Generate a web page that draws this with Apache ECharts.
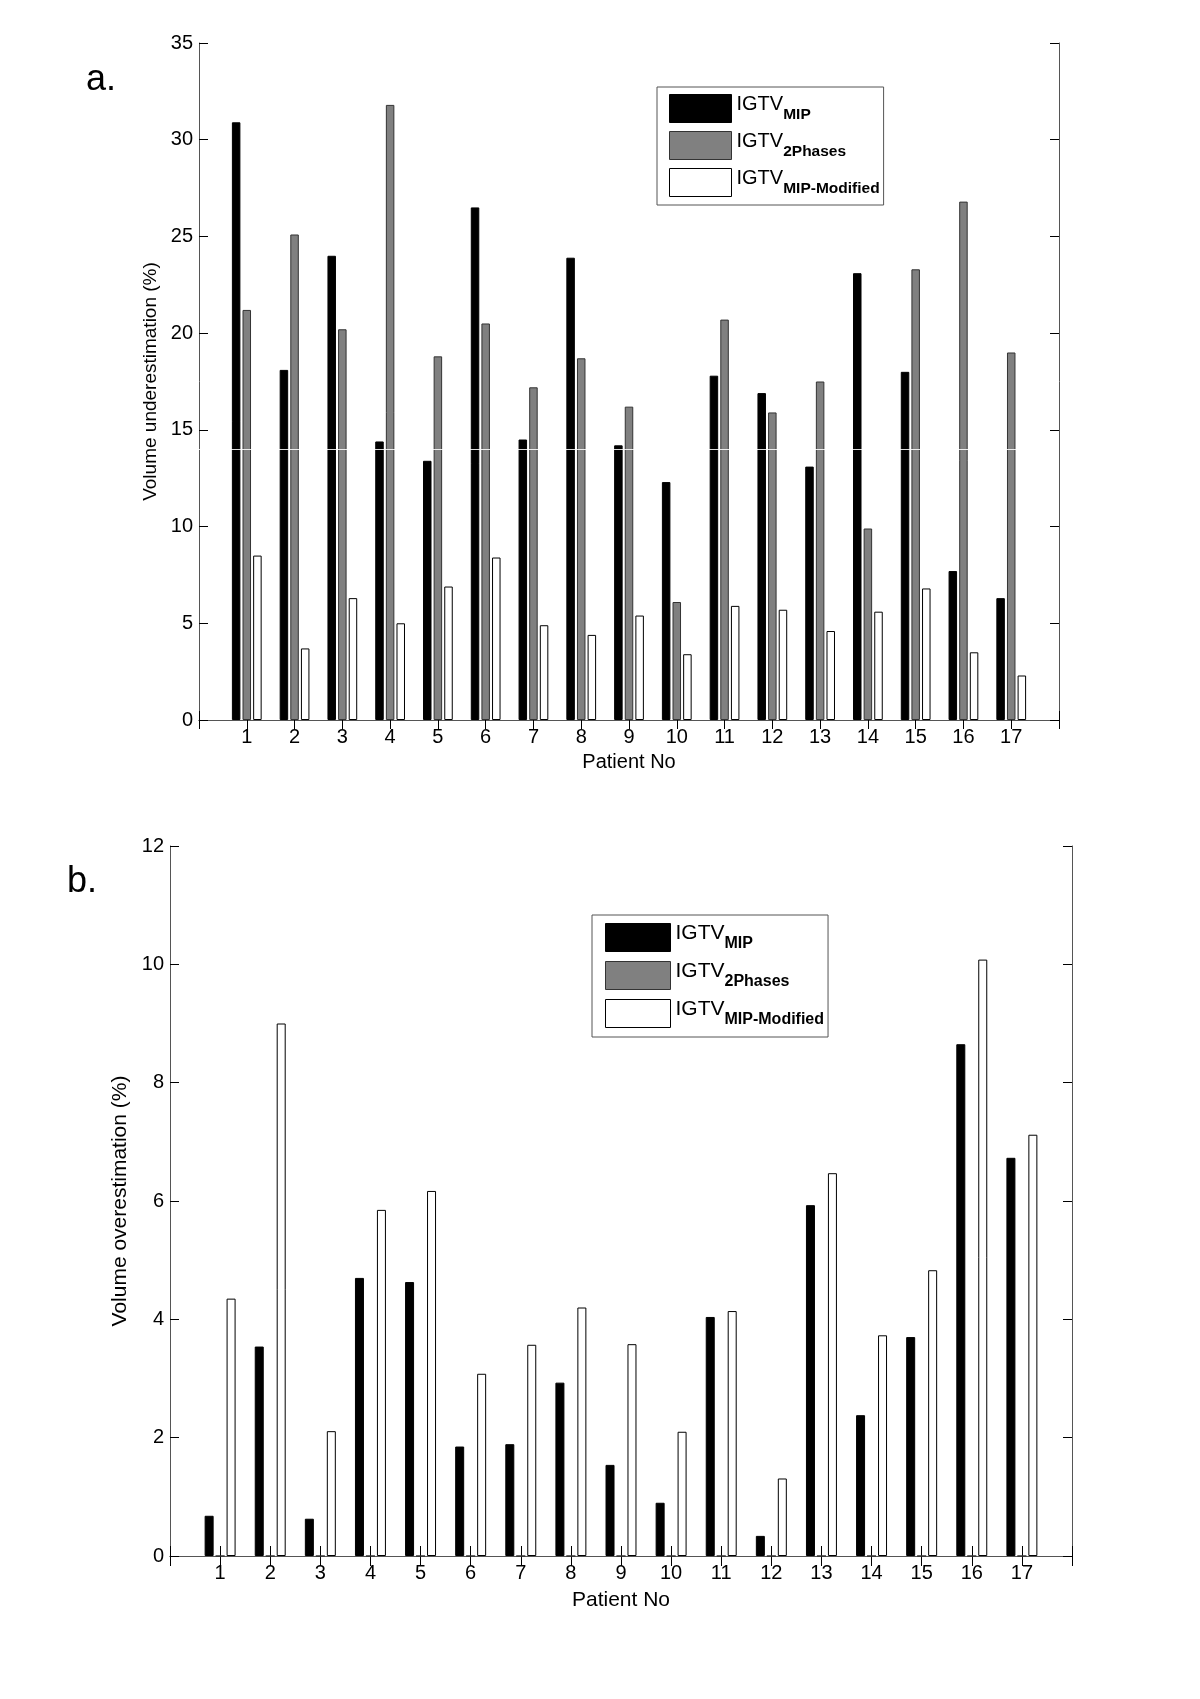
<!DOCTYPE html>
<html>
<head>
<meta charset="utf-8">
<script src="https://cdn.jsdelivr.net/npm/echarts@6/dist/echarts.min.js"></script>
<style>
  html, body { margin: 0; padding: 0; background: #fff; }
  #chart { width: 1200px; height: 1699px; }
</style>
</head>
<body>
<div id="chart"></div>
<script>
// patient numbers, padded with an empty slot at each end (axis runs 0..18)
const patients = ['', '1', '2', '3', '4', '5', '6', '7', '8', '9', '10', '11', '12', '13', '14', '15', '16', '17', ''];

// a. volume underestimation (%)
const underMip      = [30.9, 18.1, 24.0, 14.4, 13.4, 26.5, 14.5, 23.9, 14.2, 12.3, 17.8, 16.9, 13.1, 23.1, 18.0, 7.7, 6.3];
const under2Phases  = [21.2, 25.1, 20.2, 31.8, 18.8, 20.5, 17.2, 18.7, 16.2, 6.1, 20.7, 15.9, 17.5, 9.9, 23.3, 26.8, 19.0];
const underModified = [8.5, 3.7, 6.3, 5.0, 6.9, 8.4, 4.9, 4.4, 5.4, 3.4, 5.9, 5.7, 4.6, 5.6, 6.8, 3.5, 2.3];

// b. volume overestimation (%)
const overMip      = [0.68, 3.54, 0.63, 4.70, 4.63, 1.85, 1.89, 2.93, 1.54, 0.90, 4.04, 0.34, 5.93, 2.38, 3.70, 8.65, 6.73];
const over2Phases  = [0, 0, 0, 0, 0, 0, 0, 0, 0, 0, 0, 0, 0, 0, 0, 0, 0];
const overModified = [4.35, 9.0, 2.11, 5.85, 6.17, 3.08, 3.57, 4.20, 3.58, 2.10, 4.14, 1.31, 6.47, 3.73, 4.83, 10.08, 7.12];

const seriesNames = ['MIP', '2Phases', 'MIP-Modified'];
const FONT = '"Liberation Sans", Arial, Helvetica, sans-serif';

const styles = [
    { color: '#000000', borderColor: '#000000', borderWidth: 1 },
    { color: '#808080', borderColor: '#333333', borderWidth: 1 },
    { color: '#ffffff', borderColor: '#000000', borderWidth: 1 },
];

// put the empty slots at both ends
const pad = (arr) => ['-', ...arr, '-'];

const chart = echarts.init(document.getElementById('chart'));

function xAxes(gridIndex, tickLen, nameSize, nameGap) {
    const base = {
        gridIndex: gridIndex,
        type: 'category',
        data: patients,
        boundaryGap: false,
        axisLine: { show: true, lineStyle: { color: '#555', width: 1 } },
        axisTick: { show: true, inside: true, interval: 0, length: tickLen, lineStyle: { color: '#000' } },
        splitLine: { show: false },
    };
    return [
        {
            ...base,
            position: 'bottom',
            name: 'Patient No',
            nameLocation: 'middle',
            nameGap: nameGap,
            nameTextStyle: { fontFamily: FONT, fontSize: nameSize, color: '#000' },
            axisLabel: { interval: 0, margin: 7, fontFamily: FONT, fontSize: 20, color: '#000' },
        },
        { ...base, position: 'top', axisLabel: { show: false } },
    ];
}

function yAxes(gridIndex, max, interval, name, nameSize) {
    const base = {
        gridIndex: gridIndex,
        type: 'value',
        min: 0,
        max: max,
        interval: interval,
        axisLine: { show: true, lineStyle: { color: '#555', width: 1 } },
        axisTick: { show: true, inside: true, length: 9, lineStyle: { color: '#000' } },
        splitLine: { show: false },
    };
    return [
        {
            ...base,
            position: 'left',
            name: name,
            nameLocation: 'middle',
            nameGap: 37,
            nameTextStyle: { fontFamily: FONT, fontSize: nameSize, color: '#000' },
            axisLabel: { margin: 6, fontFamily: FONT, fontSize: 20, color: '#000' },
        },
        { ...base, position: 'right', axisLabel: { show: false } },
    ];
}

// legend with "IGTV" plus a lowered subscript (padding shifts the tokens)
function legend(left, top, padding, itemW, gap, mainSize, subSize) {
    return {
        orient: 'vertical',
        left: left,
        top: top,
        padding: padding,
        itemWidth: itemW,
        itemHeight: 28,
        itemGap: gap,
        icon: 'rect',
        borderColor: '#555',
        borderWidth: 1,
        backgroundColor: '#fff',
        selectedMode: false,
        data: seriesNames.map((n, i) => ({ name: n, itemStyle: styles[i] })),
        formatter: (name) => '{main|IGTV}{sub|' + name + '}',
        textStyle: {
            rich: {
                main: { fontFamily: FONT, fontSize: mainSize, lineHeight: mainSize, color: '#000',
                        padding: [0, 0, 8, 0] },
                sub: { fontFamily: FONT, fontSize: subSize, fontWeight: 'bold', lineHeight: subSize, color: '#000',
                       padding: [mainSize + 8 - subSize, 0, 0, 0] },
            },
        },
    };
}

function bars(values, idx, xIndex, yIndex, barWidth, barGap) {
    return {
        name: seriesNames[idx],
        type: 'bar',
        xAxisIndex: xIndex,
        yAxisIndex: yIndex,
        data: pad(values),
        barWidth: barWidth,
        barGap: barGap,
        itemStyle: styles[idx],
        silent: true,
        animation: false,
    };
}

const seriesA = [
    bars(underMip, 0, 0, 0, 8.5, '25%'),
    bars(under2Phases, 1, 0, 0, 8.5, '25%'),
    bars(underModified, 2, 0, 0, 8.5, '25%'),
];
// thin white scan line that crosses the bars of panel a at 14 %
seriesA[2].markLine = {
    silent: true,
    symbol: 'none',
    label: { show: false },
    lineStyle: { color: '#ffffff', width: 1, type: 'solid', opacity: 0.85 },
    data: [{ yAxis: 14 }],
};

const seriesB = [
    bars(overMip, 0, 2, 2, 9, '22%'),
    bars(over2Phases, 1, 2, 2, 9, '22%'),
    bars(overModified, 2, 2, 2, 9, '22%'),
];

const option = {
    animation: false,
    backgroundColor: '#fff',
    title: [
        { text: 'a.', left: 86, top: 62, padding: 0, textStyle: { fontFamily: FONT, fontSize: 36, fontWeight: 'normal', color: '#000' } },
        { text: 'b.', left: 67, top: 864, padding: 0, textStyle: { fontFamily: FONT, fontSize: 36, fontWeight: 'normal', color: '#000' } },
    ],
    legend: [
        legend(657, 87, [7, 4, 8, 12], 62, 8, 20, 15.5),
        legend(592, 915, [8, 4, 9, 13], 65, 9, 21, 16),
    ],
    grid: [
        { left: 199, top: 43, width: 860, height: 677, containLabel: false },
        { left: 170, top: 846, width: 902, height: 710, containLabel: false },
    ],
    xAxis: [...xAxes(0, 9, 20, 32), ...xAxes(1, 10, 21, 34)],
    yAxis: [
        ...yAxes(0, 35, 5, 'Volume underestimation (%)', 19),
        ...yAxes(1, 12, 2, 'Volume overestimation (%)', 21),
    ],
    series: [...seriesA, ...seriesB],
};

chart.setOption(option);
</script>
</body>
</html>
